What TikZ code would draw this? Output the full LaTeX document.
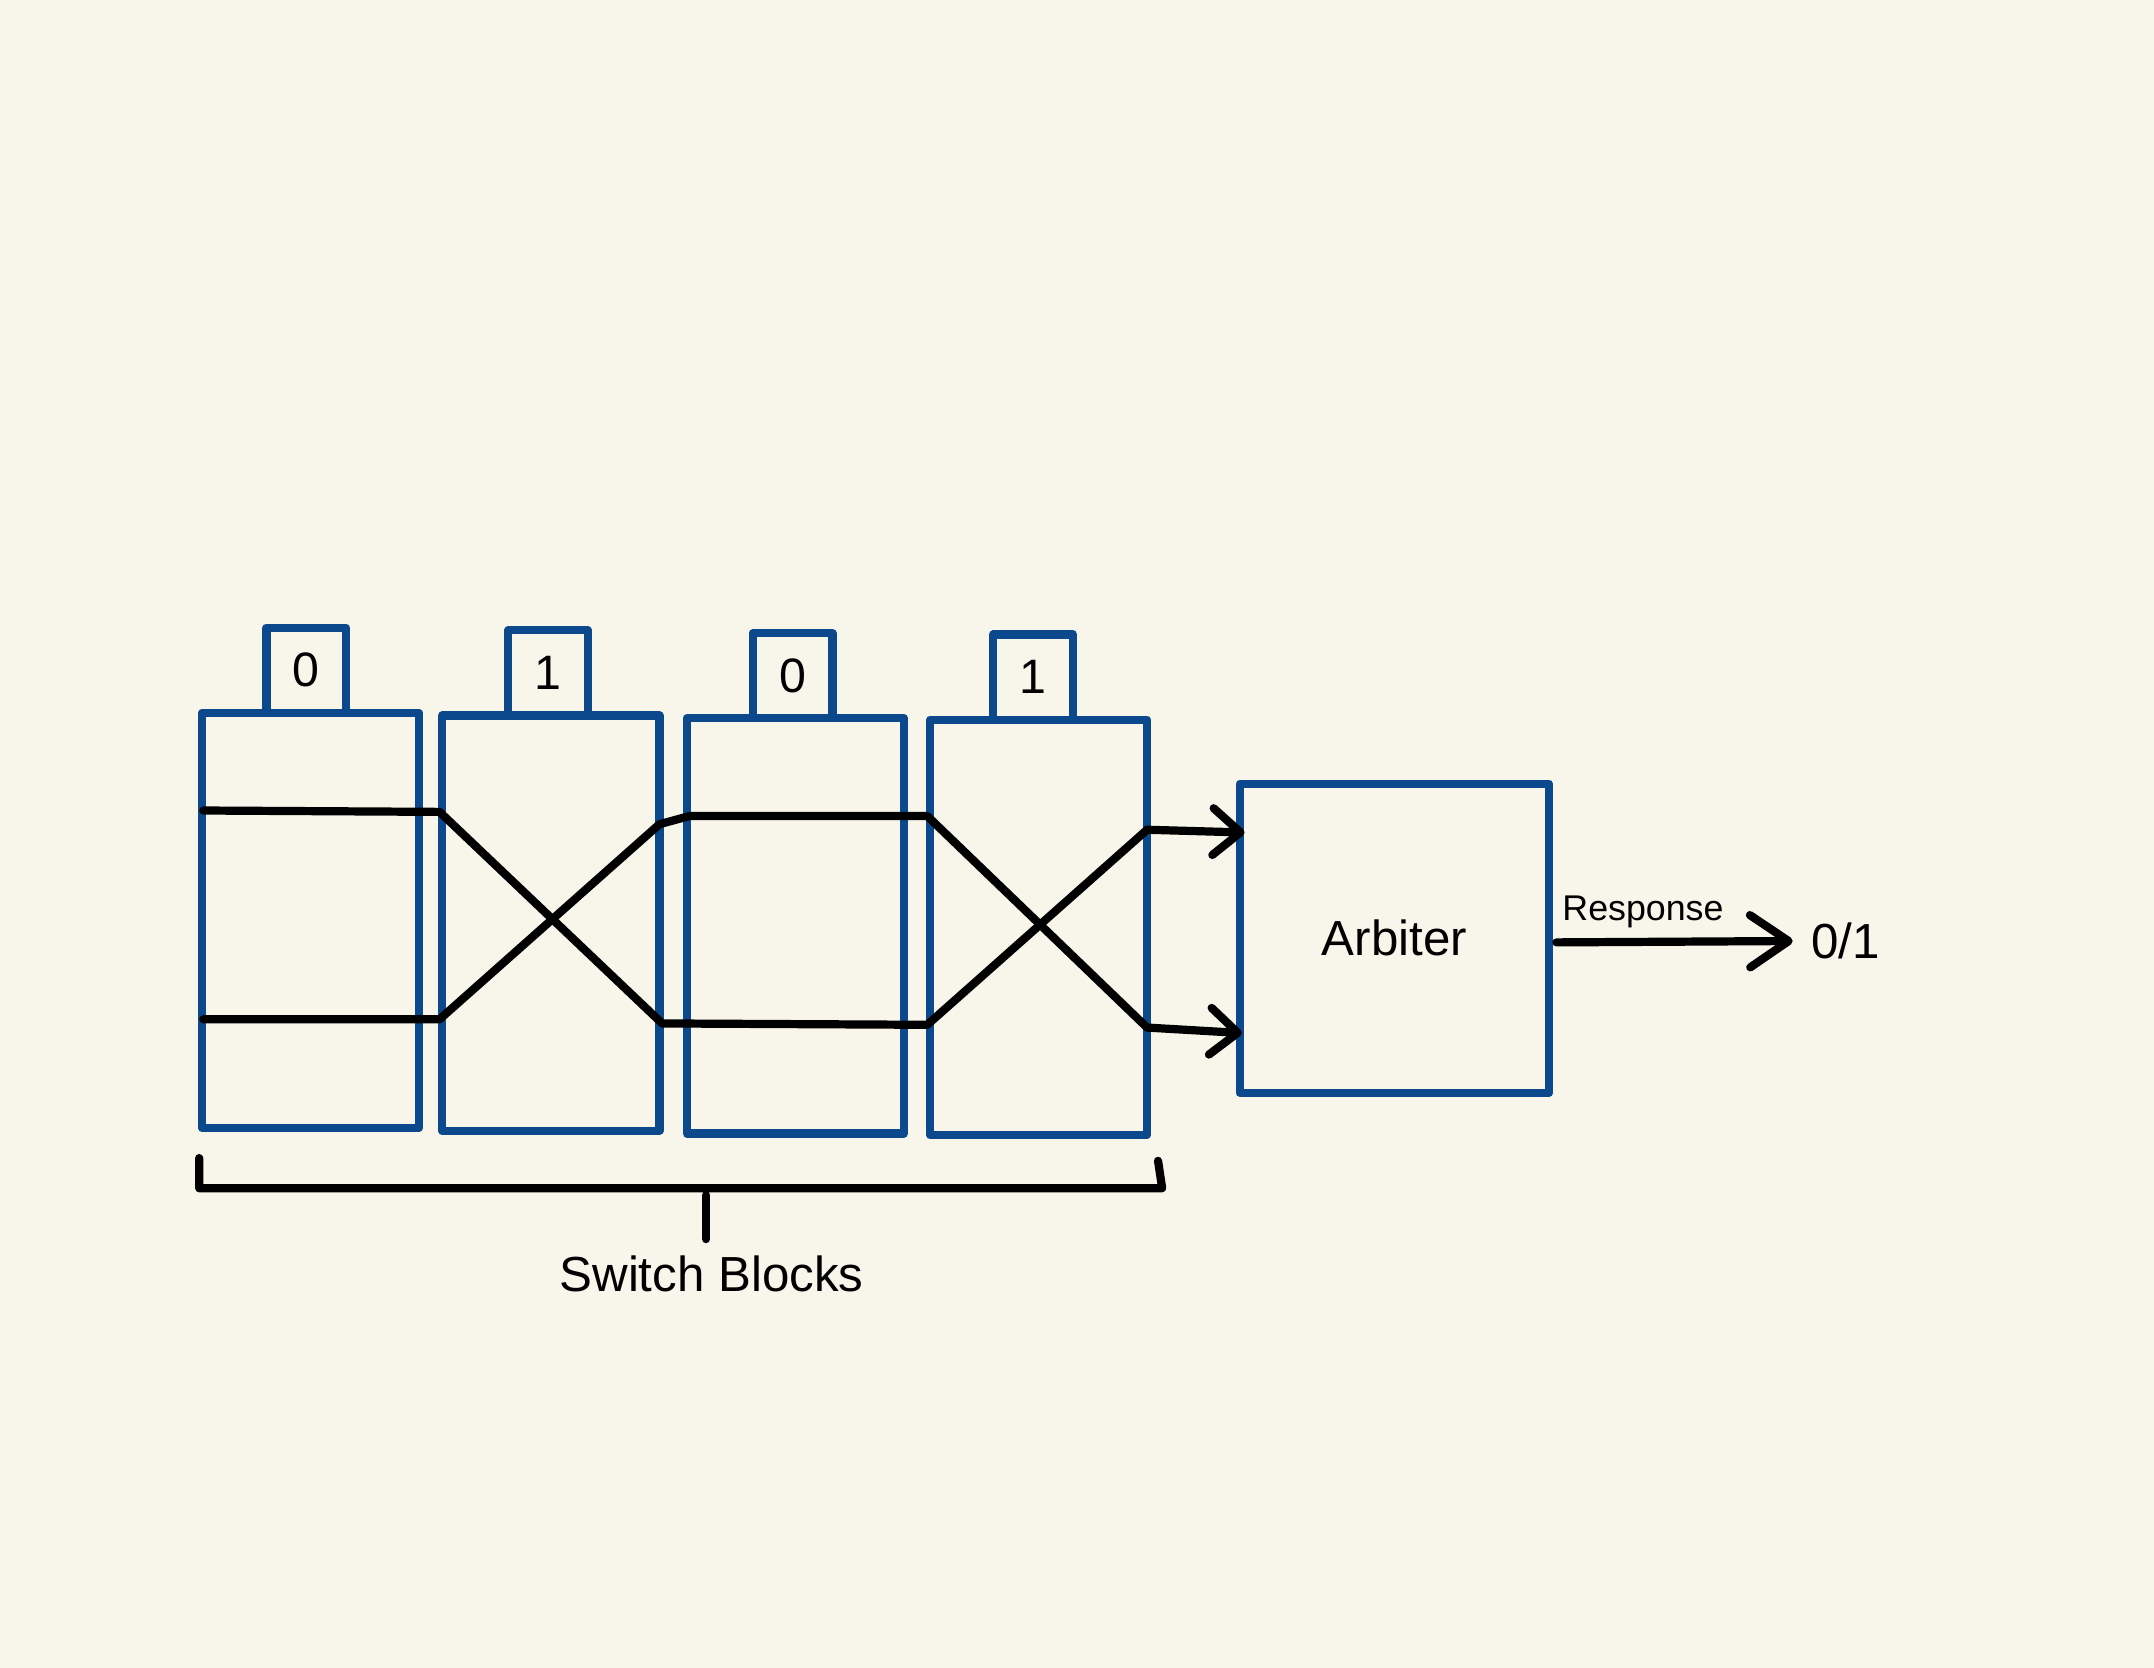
\documentclass[tikz,border=0pt]{standalone}
\usepackage{fontspec}
\setmainfont{Liberation Sans}
\usepackage{tikz}
\usetikzlibrary{positioning,arrows.meta}
\definecolor{paper}{RGB}{248,246,234}
\definecolor{pufblue}{RGB}{11,72,140}

\begin{document}
\begin{tikzpicture}[x=0.01cm,y=-0.01cm,
    line join=round, line cap=round,
    block/.style={draw=pufblue, line width=1.7pt, rectangle, minimum width=1.58cm, minimum height=3.02cm, inner sep=0pt, outer sep=0pt},
    tab/.style={draw=pufblue, line width=1.7pt, rectangle, minimum width=0.58cm, minimum height=0.62cm, inner sep=0pt, outer sep=0pt, font=\fontsize{10}{12}\selectfont},
    wire/.style={draw=black, line width=1.7pt},
    into/.style={wire, -{Straight Barb[length=2mm,width=3.4mm,round]}},
    txt/.style={inner sep=0pt, font=\fontsize{10.2}{12}\selectfont}]
            % page
            \fill[paper] (0,0) rectangle (1568,1214);
            \useasboundingbox (0,0) rectangle (1568,1214);
            % switch blocks and their challenge bits
            \node[block] (s1) at (226,670) {};
            \node[block] (s2) at (401,672) {};
            \node[block] (s3) at (579,674) {};
            \node[block] (s4) at (756,675) {};
            \node[tab, above=0pt of s1.north, xshift=-0.03cm] (c1) {0};
            \node[tab, above=0pt of s2.north, xshift=-0.02cm] (c2) {1};
            \node[tab, above=0pt of s3.north, xshift=-0.02cm] (c3) {0};
            \node[tab, above=0pt of s4.north, xshift=-0.04cm] (c4) {1};
            % arbiter
            \node[draw=pufblue, line width=1.7pt, minimum width=2.25cm, minimum height=2.25cm, txt] (arb) at (1015,683) {Arbiter};
            % bend points of the two paths
            \coordinate (a0) at (148,590);
            \coordinate (a1) at (320,591);
            \coordinate (a2) at (482,745);
            \coordinate (a3) at (675,746);
            \coordinate (a4) at (835,604);
            \coordinate (a5) at (906,606);
            \coordinate (b0) at (148,742);
            \coordinate (b1) at (320,742);
            \coordinate (b2) at (480,600);
            \coordinate (b3) at (502,594);
            \coordinate (b4) at (675,594);
            \coordinate (b5) at (835,748);
            \coordinate (b6) at (904,752);
            \draw[wire] (a0) -- (a1) -- (a2) -- (a3) -- (a4);
            \draw[into] (a4) -- (a5);
            \draw[wire] (b0) -- (b1) -- (b2) -- (b3) -- (b4) -- (b5);
            \draw[into] (b5) -- (b6);
            % response
            \coordinate (r0) at (1133,686);
            \coordinate (r1) at (1305,685);
            \draw[wire, -{Straight Barb[length=2.8mm,width=3.8mm,round]}] (r0) -- (r1);
            \node[txt, font=\fontsize{7.4}{9}\selectfont] (resp) at (1196,664) {Response};
            \node[txt, right=0.13cm of r1] (out) {0/1};
            % brace under the blocks
            \coordinate (k0) at (145,843);
            \coordinate (k1) at (145,865);
            \coordinate (k2) at (846,865);
            \coordinate (k3) at (843,845);
            \coordinate (m0) at (514,870);
            \coordinate (m1) at (514,902);
            \draw[wire] (k0) -- (k1) -- (k2) -- (k3);
            \draw[wire] (m0) -- (m1);
            \node[txt] (sb) at (518,927) {Switch Blocks};
        \end{tikzpicture}
\end{document}
